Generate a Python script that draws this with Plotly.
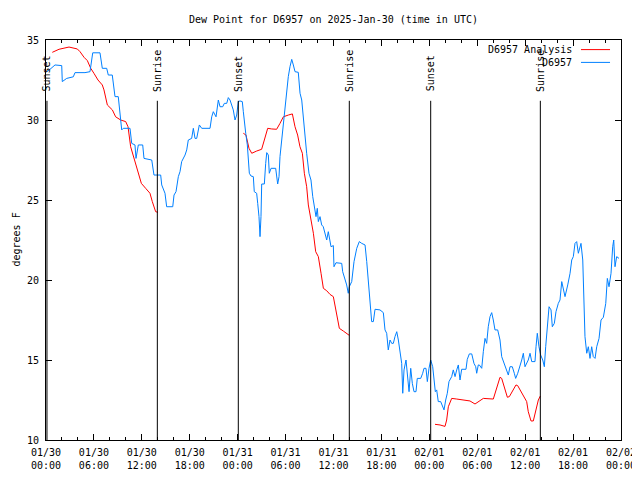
import datetime as dt
import plotly.graph_objects as go

START = dt.datetime(2025, 1, 30, 0, 0)
END = dt.datetime(2025, 2, 2, 0, 0)

# hours since 2025-01-30 00:00 UTC ; None = gap
analysis_hours = [
    0.79, 1.63, 2.88, 3.92, 4.26, 4.76, 5.18, 5.60, 6.00, 6.51,
    7.05, 7.26, 7.68, 8.31, 8.72, 9.35, 9.98, 10.27, 10.60, 11.02,
    11.35, 11.65, 11.94, 12.48, 13.02, 13.31, 13.73, 14.02, None,
    24.71, 25.04, 25.42, 25.76, 26.38, 27.00, 27.34, 27.76, 28.26, 28.88,
    29.30, 29.72, 30.35, 30.85, 31.18, 31.51, 31.80, 32.10, 32.35, 32.64,
    32.85, 33.14, 33.48, 33.77, 34.10, 34.44, 34.73, 35.15, 35.56, 35.98,
    36.19, 36.48, 36.73, 37.23, 37.65, 37.98, None,
    48.71, 49.34, 49.96, 50.17, 50.38, 50.80, 51.43, 52.26, 53.09, 53.72,
    54.14, 54.76, 56.01, 56.43, 56.85, 57.06, 57.39, 57.77, 58.02, 58.52,
    58.85, 59.06, 59.56, 59.98, 60.19, 60.39, 60.73, 61.02, 61.32, 61.65,
    61.90,
]
analysis_dewpt = [
    34.23, 34.42, 34.56, 34.44, 34.27, 33.92, 33.71, 33.23, 32.92, 32.50,
    32.19, 31.88, 30.94, 30.63, 30.20, 30.00, 29.90, 29.58, 28.33, 27.60,
    27.19, 26.56, 26.04, 25.73, 25.42, 24.90, 24.27, 24.23, None,
    29.17, 29.06, 28.23, 27.92, 28.06, 28.17, 28.75, 29.48, 29.44, 29.42,
    29.79, 30.20, 30.31, 30.38, 29.58, 29.06, 28.33, 27.92, 26.67, 25.83,
    24.69, 23.96, 22.92, 21.77, 21.46, 20.42, 19.48, 19.33, 19.10, 18.96,
    18.33, 17.60, 16.98, 16.81, 16.63, 16.54, None,
    10.98, 10.94, 10.85, 11.25, 12.08, 12.60, 12.56, 12.50, 12.44, 12.25,
    12.40, 12.60, 12.56, 13.23, 13.92, 13.85, 13.23, 12.67, 12.71, 13.13,
    13.44, 13.40, 12.92, 12.56, 12.40, 11.77, 11.19, 11.19, 11.77, 12.50,
    12.75,
]

obs_hours = [
    0.16, 0.50, 1.13, 1.97, 2.04, 2.59, 3.42, 3.63, 4.88, 5.51,
    5.85, 6.76, 7.05, 7.60, 7.80, 8.30, 8.43, 8.64, 9.05, 9.18,
    9.48, 9.68, 10.52, 10.73, 11.14, 11.27, 11.56, 12.11, 12.27, 13.24,
    13.52, 14.36, 14.49, 14.90, 15.11, 15.87, 16.03, 16.28, 16.57, 16.78,
    16.99, 17.41, 17.62, 17.82, 18.24, 18.45, 18.66, 18.87, 19.20, 19.50,
    20.54, 20.75, 20.95, 21.29, 21.58, 21.79, 22.13, 22.33, 22.63, 22.83,
    23.04, 23.45, 23.67, 23.88,
    24.08, 24.29, 24.58, 24.71, 24.83, 25.01, 25.21, 25.33, 25.46, 25.67,
    25.96, 26.08, 26.38, 26.51, 26.67, 26.80, 26.92, 27.01, 27.34, 27.51,
    27.64, 27.84, 27.96, 28.18, 28.76, 29.01, 29.18, 29.30, 29.51, 29.72,
    29.84, 30.14, 30.34, 30.55, 30.77, 30.97, 31.18, 31.59, 31.81, 32.02,
    32.22, 32.43, 32.64, 32.93, 33.18, 33.40, 33.60, 33.81, 33.97, 34.10,
    34.31, 34.52, 34.72, 34.94, 35.15, 35.35, 35.56, 35.69, 35.98, 36.06,
    36.31, 37.03, 37.15, 37.44, 37.65, 37.85, 37.98, 38.28, 38.57, 38.91,
    39.23, 39.53, 39.95, 40.16, 40.36, 40.57, 40.78, 40.99, 41.20, 41.82,
    42.24, 42.45, 42.66, 42.86, 43.08, 43.29, 43.49, 43.70, 43.92, 44.12,
    44.33, 44.54, 44.67, 44.83, 45.08, 45.24, 45.46, 45.67, 45.87, 46.08,
    46.33, 46.49, 46.92, 47.17, 47.33, 47.58, 47.75, 47.96, 48.17, 48.42,
    48.62, 48.75, 48.92, 49.12, 49.42, 49.62, 49.84, 50.05, 50.25, 50.46,
    50.80, 51.00, 51.22, 51.43, 51.63, 51.84, 52.05, 52.59, 52.75, 53.01,
    53.31, 53.59, 53.81, 53.93, 54.13, 54.26,
    54.56, 54.76, 54.97, 55.18, 55.38, 55.60, 55.81, 56.01, 56.22, 56.56,
    56.85, 57.06, 57.39, 57.69, 57.89, 58.10, 58.39, 58.64, 58.81, 59.07,
    59.36, 59.57, 59.77, 59.98, 60.39, 60.61, 60.82, 61.23, 61.36, 61.52,
    61.73, 61.94, 62.20, 62.40, 62.57, 62.78, 62.99, 63.24, 63.40, 63.65,
    63.86, 64.15, 64.36, 64.58, 64.78, 64.99, 65.33, 65.62, 65.83, 66.03,
    66.24, 66.45, 66.66, 66.99, 67.21, 67.28, 67.49, 67.71, 67.91, 68.12,
    68.33, 68.53, 68.75, 68.96, 69.25, 69.50, 69.79, 70.09, 70.29, 70.50,
    70.75, 70.96, 71.09, 71.25, 71.46, 71.75,
]
obs_dewpt = [
    33.02, 33.17, 33.44, 33.40, 32.40, 32.60, 32.70, 32.96, 32.96, 33.02,
    34.20, 34.20, 33.23, 33.23, 32.81, 32.81, 32.29, 31.46, 31.46, 30.83,
    29.38, 29.48, 29.48, 28.54, 28.44, 27.60, 28.44, 28.44, 27.60, 27.50,
    26.56, 26.56, 25.94, 25.42, 24.58, 24.58, 25.31, 25.52, 26.46, 26.77,
    27.40, 27.81, 28.13, 28.75, 28.85, 29.48, 28.85, 28.85, 29.69, 29.48,
    29.48, 30.20, 30.52, 30.20, 31.25, 30.83, 30.83, 31.04, 31.04, 31.40,
    31.25, 30.63, 30.00, 30.31,
    31.15, 31.19, 31.15, 30.52, 29.90, 29.17, 28.44, 27.60, 26.67, 26.50,
    26.46, 25.52, 25.42, 24.79, 23.96, 22.71, 23.96, 26.00, 26.00, 27.29,
    27.96, 27.81, 26.67, 26.98, 26.98, 26.00, 26.46, 27.71, 28.75, 29.58,
    30.63, 31.67, 32.71, 33.33, 33.79, 33.44, 33.02, 32.98, 31.67, 31.25,
    30.00, 28.96, 27.92, 26.67, 26.25, 25.21, 24.69, 23.96, 24.48, 23.65,
    23.96, 23.44, 23.33, 22.81, 22.50, 23.02, 22.40, 22.08, 22.15, 20.83,
    21.08, 21.04, 20.52, 20.10, 19.69, 19.17, 19.58, 19.90, 21.15, 21.98,
    22.40, 22.29, 22.19, 21.15, 20.00, 18.33, 17.40, 17.40, 18.17, 18.13,
    17.96, 16.88, 16.67, 15.63, 16.25, 16.04, 16.04, 16.46, 16.77, 16.25,
    15.63, 14.79, 12.92, 14.38, 15.00, 14.17, 13.02, 14.48, 13.54, 13.02,
    13.02, 13.85, 13.85, 14.17, 14.48, 14.48, 13.65, 14.48, 15.00, 14.58,
    13.75, 13.02, 13.13, 12.40, 12.40, 12.08, 11.88, 12.50, 12.92, 13.65,
    13.96, 14.38, 13.96, 14.38, 14.69, 13.75, 14.42, 14.42, 15.04, 15.38,
    15.38, 14.79, 14.58, 14.17, 14.69, 14.69,
    14.48, 15.52, 16.35, 16.04, 17.08, 17.71, 17.96, 17.50, 16.88, 16.88,
    16.25, 15.21, 14.79, 14.38, 14.06, 14.58, 14.58, 14.17, 13.85, 14.17,
    14.58, 15.00, 15.42, 14.58, 15.00, 15.42, 14.90, 14.90, 15.83, 16.67,
    15.83, 15.31, 15.00, 14.58, 15.83, 16.88, 18.33, 18.13, 17.08, 17.29,
    18.02, 18.54, 18.75, 19.90, 19.48, 18.96, 19.69, 20.42, 21.25, 21.46,
    22.29, 22.40, 21.67, 22.29, 21.25, 19.58, 16.46, 15.42, 15.83, 15.10,
    15.83, 15.21, 15.10, 15.83, 16.35, 17.50, 17.67, 18.54, 20.10, 19.58,
    20.42, 22.08, 22.50, 20.83, 21.46, 21.35,
]

sun_event_hours = [0.12, 13.94, 24.08, 37.98, 48.17, 61.90]
sun_event_labels = ["Sunset", "Sunrise", "Sunset", "Sunrise", "Sunset", "Sunrise"]

series_names = ["D6957 Analysis", "D6957"]
series_colors = ["#ff0000", "#0080ff"]

title_text = "Dew Point for D6957 on 2025-Jan-30 (time in UTC)"
y_title = "degrees F"


def to_time(hours):
    return [None if h is None else START + dt.timedelta(hours=h) for h in hours]


FONT = "DejaVu Sans Mono"
# the page body adds an 8px offset; the figure is sized so the plot box
# lands at x 46..621, y 40..440 of the 640x480 window
W, H, OFF = 632, 472, 8

fig = go.Figure()
fig.add_trace(go.Scatter(x=to_time(analysis_hours), y=analysis_dewpt, mode="lines",
                         name=series_names[0], line=dict(color=series_colors[0], width=1),
                         connectgaps=False))
fig.add_trace(go.Scatter(x=to_time(obs_hours), y=obs_dewpt, mode="lines",
                         name=series_names[1], line=dict(color=series_colors[1], width=1)))

# sunrise / sunset markers
for h, lab in zip(sun_event_hours, sun_event_labels):
    t = START + dt.timedelta(hours=h)
    fig.add_shape(type="line", xref="x", yref="y", x0=t, x1=t, y0=10, y1=31.2,
                  line=dict(color="black", width=1))
    fig.add_annotation(x=t, y=31.65, xref="x", yref="y", text=lab, textangle=-90,
                       showarrow=False, xanchor="center", yanchor="bottom",
                       font=dict(family=FONT, size=10, color="black"))

# gnuplot-style legend (text right-aligned, sample to the right)
leg_y = [0.976, 0.944]
for name, col, yy in zip(series_names, series_colors, leg_y):
    fig.add_annotation(x=0.9183, y=yy, xref="paper", yref="paper", text=name,
                       showarrow=False, xanchor="right", yanchor="middle",
                       font=dict(family=FONT, size=10, color="black"))
    fig.add_shape(type="line", xref="paper", yref="paper", x0=0.9304, x1=0.9809,
                  y0=yy, y1=yy, line=dict(color=col, width=1))

fig.add_annotation(x=0, y=0.5, xref="paper", yref="paper", text=y_title,
                   xshift=-(46 - OFF), textangle=-90, showarrow=False,
                   xanchor="left", yanchor="middle",
                   font=dict(family=FONT, size=10, color="black"))

fig.update_layout(
    width=W, height=H,
    margin=dict(l=46 - OFF, r=19, t=40 - OFF, b=40, autoexpand=False),
    plot_bgcolor="white", paper_bgcolor="white",
    showlegend=False,
    font=dict(family=FONT, size=10, color="black"),
    title=dict(text=title_text, x=(333.5 - OFF) / W, xanchor="center",
               y=1 - (19 - OFF) / H, yanchor="middle",
               font=dict(family=FONT, size=10, color="black")),
)
fig.update_xaxes(
    type="date", range=[START, END], tickmode="linear", tick0=START,
    dtick=6 * 3600 * 1000, tickformat="%m/%d<br>%H:%M", automargin=False,
    ticks="inside", ticklen=6, tickcolor="black", tickwidth=1, ticklabelstandoff=3,
    showline=True, linecolor="black", linewidth=1, mirror="allticks",
    showgrid=False, zeroline=False,
    minor=dict(dtick=2 * 3600 * 1000, tick0=START, ticks="inside", ticklen=3,
               tickcolor="black", showgrid=False),
)
fig.update_yaxes(
    range=[10, 35], tickmode="linear", tick0=10, dtick=5, automargin=False,
    ticks="inside", ticklen=6, tickcolor="black", tickwidth=1, ticklabelstandoff=4,
    showline=True, linecolor="black", linewidth=1, mirror="allticks",
    showgrid=False, zeroline=False,
)

fig.write_html("out.html")
